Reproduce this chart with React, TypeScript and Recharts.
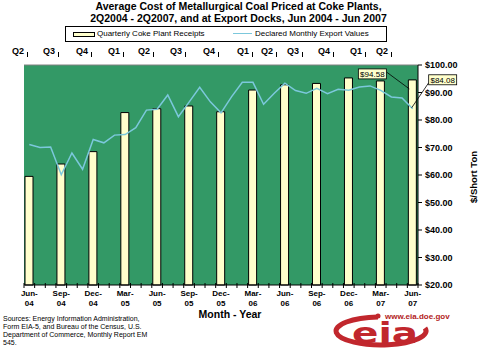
import React from "react";
import {
  ComposedChart,
  Bar,
  Line,
  XAxis,
  YAxis,
  CartesianGrid,
  LabelList,
  ReferenceLine,
} from "recharts";

const FONT = '"Liberation Sans", Arial, sans-serif';

// monthly categories, Jun 2004 - Jun 2007
const months = [
  "Jun-04", "Jul-04", "Aug-04", "Sep-04", "Oct-04", "Nov-04", "Dec-04",
  "Jan-05", "Feb-05", "Mar-05", "Apr-05", "May-05", "Jun-05", "Jul-05",
  "Aug-05", "Sep-05", "Oct-05", "Nov-05", "Dec-05", "Jan-06", "Feb-06",
  "Mar-06", "Apr-06", "May-06", "Jun-06", "Jul-06", "Aug-06", "Sep-06",
  "Oct-06", "Nov-06", "Dec-06", "Jan-07", "Feb-07", "Mar-07", "Apr-07",
  "May-07", "Jun-07",
];

// quarterly coke plant receipts ($/short ton)
const quarterMonths = [
  "Jun-04", "Sep-04", "Dec-04", "Mar-05", "Jun-05", "Sep-05", "Dec-05",
  "Mar-06", "Jun-06", "Sep-06", "Dec-06", "Mar-07", "Jun-07",
];
const cokeReceipts = [
  59.5, 64.0, 68.5, 82.7, 84.1, 85.1, 83.0, 90.9, 92.8, 93.3, 95.3, 94.2, 94.58,
];

// declared monthly export values ($/short ton)
const exportValues = [
  71.1, 70.0, 70.2, 60.1, 68.0, 62.1, 72.9, 71.7, 74.5, 74.7, 77.2, 83.6,
  83.9, 89.1, 81.2, 86.5, 91.9, 86.6, 82.6, 88.5, 93.7, 93.7, 85.7, 89.7,
  93.4, 90.7, 89.7, 91.5, 89.6, 91.2, 90.8, 92.0, 92.4, 90.8, 88.4, 88.0,
  84.08,
];

const quarterLabels = [
  "Q2", "Q3", "Q4", "Q1", "Q2", "Q3", "Q4", "Q1", "Q2", "Q3", "Q4", "Q1", "Q2",
];
const quarterLabelLeft = [12, 43, 76, 108, 138, 170, 203, 237, 261, 287, 318, 350, 376];

const priceTicks = [20, 30, 40, 50, 60, 70, 80, 90, 100];

const sourceLines = [
  "Sources:  Energy Information Administration,",
  "Form EIA-5, and Bureau of the Census, U.S.",
  "Department of Commerce, Monthly Report EM",
  "545.",
];

const data = months.map((m, i) => {
  const q = quarterMonths.indexOf(m);
  return { month: m, coke: q >= 0 ? cokeReceipts[q] : null, exports: exportValues[i] };
});

const MARGIN = { top: 65, right: 0, bottom: 36, left: 24 };
const Y_WIDTH = 62;
const BAND = (480 - MARGIN.left - MARGIN.right - Y_WIDTH) / months.length;

function MonthTick(props: any) {
  const { x, y, payload, index } = props;
  const label: string = payload.value;
  const showLabel = quarterMonths.includes(label);
  return (
    <g>
      <line x1={x - BAND / 2} x2={x - BAND / 2} y1={y - 2} y2={y + 3} stroke="#000" />
      {index === months.length - 1 && (
        <line x1={x + BAND / 2} x2={x + BAND / 2} y1={y - 2} y2={y + 3} stroke="#000" />
      )}
      {showLabel && (
        <text
          x={x}
          y={y + 11}
          textAnchor="middle"
          fontFamily={FONT}
          fontSize={8}
          fontWeight="bold"
          fill="#000"
        >
          <tspan x={x}>{label.slice(0, 4)}</tspan>
          <tspan x={x} dy={10}>
            {label.slice(4)}
          </tspan>
        </text>
      )}
    </g>
  );
}

function Callout({ bx, by, lx1, ly1, lx2, ly2, text }: any) {
  return (
    <g>
      <line x1={lx1} y1={ly1} x2={lx2} y2={ly2} stroke="#000" strokeWidth={0.8} />
      <rect x={bx} y={by} width={28} height={10} fill="#ffffcc" stroke="#000" strokeWidth={0.8} />
      <text
        x={bx + 14}
        y={by + 8}
        textAnchor="middle"
        fontFamily={FONT}
        fontSize={8}
        fill="#000"
      >
        {text}
      </text>
    </g>
  );
}

function BarCallout(props: any) {
  const { x, y, width, value } = props;
  if (value !== cokeReceipts[cokeReceipts.length - 1]) return null;
  const cx = x + width / 2;
  return (
    <Callout
      bx={cx - 54}
      by={y - 11}
      lx1={cx - 26}
      ly1={y - 8}
      lx2={cx - 3}
      ly2={y + 9}
      text={`$${Number(value).toFixed(2)}`}
    />
  );
}

function LineCallout(props: any) {
  const { x, y, value, index } = props;
  if (index !== exportValues.length - 1) return null;
  return (
    <Callout
      bx={x + 16}
      by={y - 34}
      lx1={x + 16}
      ly1={y - 26}
      lx2={x - 1}
      ly2={y - 1}
      text={`$${Number(value).toFixed(2)}`}
    />
  );
}

export default function App() {
  return (
    <div
      style={{
        position: "relative",
        width: 480,
        height: 351,
        background: "#fff",
        fontFamily: FONT,
        color: "#000",
        overflow: "hidden",
      }}
    >
      <style>{`body{margin:0}`}</style>

      <div
        style={{
          position: "absolute",
          top: 1,
          left: 0,
          width: 477,
          textAlign: "center",
          fontWeight: "bold",
          fontSize: 10.5,
          lineHeight: "11.5px",
          whiteSpace: "nowrap",
        }}
      >
        Average Cost of Metallurgical Coal Priced at Coke Plants,
        <br />
        2Q2004 - 2Q2007, and at Export Docks, Jun 2004 - Jun 2007
      </div>

      <div
        style={{
          position: "absolute",
          left: 65,
          top: 26,
          width: 320,
          height: 14,
          border: "1px solid #000",
          background: "#fff",
          fontSize: 8,
        }}
      >
        <div
          style={{
            position: "absolute",
            left: 7,
            top: 5,
            width: 20,
            height: 3,
            background: "#ffffcc",
            border: "1px solid #000",
          }}
        />
        <div style={{ position: "absolute", left: 31, top: 2 }}>Quarterly Coke Plant Receipts</div>
        <div
          style={{
            position: "absolute",
            left: 167,
            top: 6,
            width: 19,
            height: 0,
            borderTop: "1.5px solid #7cc8dc",
          }}
        />
        <div style={{ position: "absolute", left: 189, top: 2 }}>Declared Monthly Export Values</div>
      </div>

      {quarterLabels.map((q, i) => (
        <div
          key={i}
          style={{
            position: "absolute",
            left: quarterLabelLeft[i],
            top: 46,
            fontSize: 9,
            fontWeight: "bold",
            whiteSpace: "nowrap",
          }}
        >
          {q}
          <span
            style={{
              display: "inline-block",
              width: 0,
              height: 5,
              borderLeft: "1px solid #000",
              marginLeft: 3,
              verticalAlign: "-3px",
            }}
          />
        </div>
      ))}

      <div style={{ position: "absolute", top: 0, left: 0 }}>
        <ComposedChart width={480} height={351} data={data} margin={MARGIN}>
          <CartesianGrid
            xAxisId={0}
            yAxisId="r"
            fill="#339966"
            fillOpacity={1}
            horizontal={false}
            vertical={false}
          />
          <XAxis
            dataKey="month"
            interval={0}
            height={30}
            tickLine={false}
            tickSize={0}
            tickMargin={0}
            axisLine={{ stroke: "#000" }}
            tick={<MonthTick />}
          />
          <YAxis
            yAxisId="l"
            orientation="left"
            width={0}
            domain={[20, 100]}
            tick={false}
            tickLine={false}
            axisLine={{ stroke: "#808080" }}
          />
          <YAxis
            yAxisId="r"
            orientation="right"
            width={Y_WIDTH}
            domain={[20, 100]}
            ticks={priceTicks}
            interval={0}
            tickSize={4}
            tickMargin={3}
            axisLine={{ stroke: "#000" }}
            tickLine={{ stroke: "#000" }}
            tick={{ fill: "#000", fontSize: 9, fontWeight: "bold", fontFamily: FONT }}
            tickFormatter={(v: number) => `$${v.toFixed(2)}`}
          />
          <ReferenceLine yAxisId="r" y={100} stroke="#808080" />
          <Bar
            yAxisId="r"
            dataKey="coke"
            barSize={8}
            fill="#ffffcc"
            stroke="#000"
            strokeWidth={1}
            isAnimationActive={false}
          >
            <LabelList dataKey="coke" content={BarCallout} />
          </Bar>
          <Line
            yAxisId="r"
            dataKey="exports"
            type="linear"
            stroke="#7cc8dc"
            strokeWidth={1.5}
            dot={false}
            activeDot={false}
            isAnimationActive={false}
          >
            <LabelList dataKey="exports" content={LineCallout} />
          </Line>
        </ComposedChart>
      </div>

      <div
        style={{
          position: "absolute",
          left: 473,
          top: 177,
          transform: "translate(-50%, -50%) rotate(-90deg)",
          whiteSpace: "nowrap",
          fontWeight: "bold",
          fontSize: 9.5,
        }}
      >
        $/Short Ton
      </div>

      <div
        style={{
          position: "absolute",
          left: 230,
          top: 308,
          transform: "translateX(-50%)",
          whiteSpace: "nowrap",
          fontWeight: "bold",
          fontSize: 10.5,
          lineHeight: "12px",
        }}
      >
        Month - Year
      </div>

      <div
        style={{
          position: "absolute",
          left: 3,
          top: 315,
          fontSize: 7,
          lineHeight: "8px",
          whiteSpace: "nowrap",
        }}
      >
        {sourceLines.map((s, i) => (
          <div key={i}>{s}</div>
        ))}
      </div>

      <svg
        style={{ position: "absolute", left: 330, top: 310 }}
        width={150}
        height={41}
      >
        <path
          d="M 48 7 A 45 14 0 1 0 95 18"
          fill="none"
          stroke="#c1272d"
          strokeWidth={5}
        />
        <circle cx={48} cy={6} r={2.5} fill="#c1272d" />
        <text
          x={22}
          y={33}
          fontFamily='"DejaVu Sans", sans-serif'
          fontWeight="bold"
          fontSize={28}
          fill="#c1272d"
          textLength={66}
          lengthAdjust="spacingAndGlyphs"
        >
          eia
        </text>
        <text
          x={55}
          y={9}
          fontFamily={FONT}
          fontWeight="bold"
          fontSize={8}
          fill="#b22222"
        >
          www.eia.doe.gov
        </text>
      </svg>
    </div>
  );
}
